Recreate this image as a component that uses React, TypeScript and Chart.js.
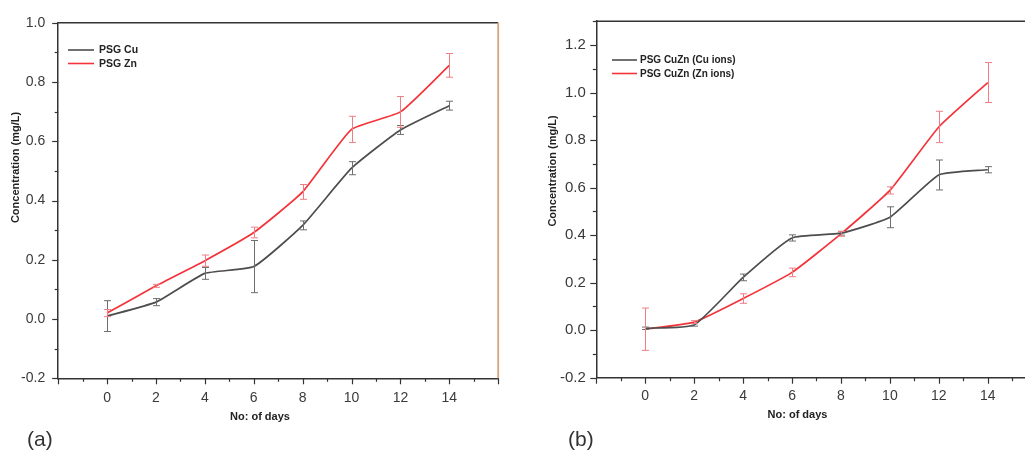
import React, { useEffect, useRef } from 'react';
import { Chart, registerables } from 'chart.js';

Chart.register(...registerables);

// ---------- data ----------
const days = [0, 2, 4, 6, 8, 10, 12, 14];

const cuA = [0.01, 0.057, 0.154, 0.177, 0.316, 0.509, 0.638, 0.72];
const cuAErr = [0.052, 0.012, 0.02, 0.088, 0.015, 0.022, 0.015, 0.015];
const znA = [0.02, 0.112, 0.197, 0.292, 0.429, 0.64, 0.699, 0.856];
const znAErr = [0.012, 0.005, 0.019, 0.018, 0.025, 0.044, 0.052, 0.04];

const cuB = [0.008, 0.022, 0.222, 0.388, 0.408, 0.475, 0.653, 0.675];
const cuBErr = [0.005, 0.005, 0.014, 0.013, 0.008, 0.044, 0.063, 0.013];
const znB = [0.004, 0.034, 0.133, 0.243, 0.405, 0.588, 0.855, 1.042];
const znBErr = [0.089, 0.006, 0.02, 0.018, 0.01, 0.015, 0.066, 0.084];

const xTickLabels = ['0', '2', '4', '6', '8', '10', '12', '14'];
const yTickLabelsA = ['-0.2', '0.0', '0.2', '0.4', '0.6', '0.8', '1.0'];
const yTickLabelsB = ['-0.2', '0.0', '0.2', '0.4', '0.6', '0.8', '1.0', '1.2'];

const seriesLabelsA = ['PSG Cu', 'PSG Zn'];
const seriesLabelsB = ['PSG CuZn (Cu ions)', 'PSG CuZn (Zn ions)'];

const GREY = '#4d4d4d';
const RED = '#f3343b';
const GREY_ERR = '#6e6e6e';
const RED_ERR = '#f07d84';
const AXIS = '#333333';
const TEXT = '#3a3a3a';

type PanelSpec = {
  width: number;
  yMin: number;
  yMax: number;
  yLabels: string[];
  series: { label: string; values: number[]; errors: number[]; color: string; errColor: string }[];
  pad: { top: number; right: number };
  yAxisWidth: number;
  xAxisHeight: number;
  yTickFont: number;
  yTickPad: number;
  xTickPad: number;
  yTitle: { x: number; y: number };
  xTitle: { x: number; y: number };
  legend: { x0: number; x1: number; y: number[]; textX: number; font: number };
  panelLabel: { text: string; x: number; y: number };
  rightBorder: string | null;
};

const decorPlugin = {
  id: 'panelDecor',
  afterDatasetsDraw(chart: any) {
    const spec: PanelSpec = chart.options.plugins.panelDecor.spec;
    const ctx = chart.ctx;
    const xs = chart.scales.x;
    const ys = chart.scales.y;
    ctx.save();
    spec.series.forEach((s) => {
      ctx.strokeStyle = s.errColor;
      ctx.lineWidth = 1;
      s.values.forEach((v, i) => {
        const px = Math.round(xs.getPixelForValue(days[i])) + 0.5;
        const yt = ys.getPixelForValue(v + s.errors[i]);
        const yb = ys.getPixelForValue(v - s.errors[i]);
        ctx.beginPath();
        ctx.moveTo(px, yt);
        ctx.lineTo(px, yb);
        ctx.moveTo(px - 3.5, yt);
        ctx.lineTo(px + 3.5, yt);
        ctx.moveTo(px - 3.5, yb);
        ctx.lineTo(px + 3.5, yb);
        ctx.stroke();
      });
    });
    ctx.restore();
  },
  afterDraw(chart: any) {
    const spec: PanelSpec = chart.options.plugins.panelDecor.spec;
    const ctx = chart.ctx;
    const area = chart.chartArea;
    const xs = chart.scales.x;
    const ys = chart.scales.y;
    ctx.save();
    // tick marks
    ctx.strokeStyle = AXIS;
    ctx.lineWidth = 1.2;
    ys.ticks.forEach((t: any) => {
      const major = Math.round(t.value * 10) % 2 === 0;
      const py = Math.round(ys.getPixelForValue(t.value)) + 0.5;
      const len = major ? 6 : 3.5;
      ctx.beginPath();
      ctx.moveTo(area.left, py);
      ctx.lineTo(area.left - len, py);
      ctx.stroke();
    });
    xs.ticks.forEach((t: any) => {
      const major = Math.round(t.value) % 2 === 0;
      const px = Math.round(xs.getPixelForValue(t.value)) + 0.5;
      const len = major ? 6 : 3.5;
      ctx.beginPath();
      ctx.moveTo(px, area.bottom);
      ctx.lineTo(px, area.bottom + len);
      ctx.stroke();
    });
    // top border
    ctx.lineWidth = 1.5;
    ctx.beginPath();
    ctx.moveTo(area.left, area.top);
    ctx.lineTo(spec.rightBorder ? area.right : chart.width, area.top);
    ctx.stroke();
    if (spec.rightBorder) {
      ctx.strokeStyle = spec.rightBorder;
      ctx.lineWidth = 1.8;
      ctx.beginPath();
      ctx.moveTo(area.right, area.top);
      ctx.lineTo(area.right, area.bottom);
      ctx.stroke();
    }
    // axis titles
    ctx.fillStyle = '#222';
    ctx.font = 'bold 11px "Liberation Sans", Arial, sans-serif';
    ctx.textAlign = 'center';
    ctx.textBaseline = 'middle';
    ctx.fillText('No: of days', spec.xTitle.x, spec.xTitle.y);
    ctx.save();
    ctx.translate(spec.yTitle.x, spec.yTitle.y);
    ctx.rotate(-Math.PI / 2);
    ctx.fillText('Concentration (mg/L)', 0, 0);
    ctx.restore();
    // legend
    const lg = spec.legend;
    ctx.font = `bold ${lg.font}px "Liberation Sans", Arial, sans-serif`;
    ctx.textAlign = 'left';
    ctx.textBaseline = 'middle';
    spec.series.forEach((s, i) => {
      ctx.strokeStyle = s.color;
      ctx.lineWidth = 1.6;
      ctx.beginPath();
      ctx.moveTo(lg.x0, lg.y[i]);
      ctx.lineTo(lg.x1, lg.y[i]);
      ctx.stroke();
      ctx.fillStyle = '#222';
      ctx.fillText(s.label, lg.textX, lg.y[i] + 0.5);
    });
    // panel label
    ctx.fillStyle = '#333';
    ctx.font = '21px "Liberation Sans", Arial, sans-serif';
    ctx.textBaseline = 'alphabetic';
    ctx.fillText(spec.panelLabel.text, spec.panelLabel.x, spec.panelLabel.y);
    ctx.restore();
  },
};

function buildConfig(spec: PanelSpec): any {
  return {
    type: 'line',
    data: {
      datasets: spec.series.map((s) => ({
        label: s.label,
        data: days.map((d, i) => ({ x: d, y: s.values[i] })),
        borderColor: s.color,
        backgroundColor: s.color,
        borderWidth: 1.7,
        pointRadius: 0,
        tension: 0.15,
        fill: false,
      })),
    },
    options: {
      responsive: false,
      animation: false,
      events: [],
      layout: { padding: { top: spec.pad.top, right: spec.pad.right, left: 0, bottom: 0 } },
      plugins: {
        legend: { display: false },
        tooltip: { enabled: false },
        panelDecor: { spec },
      },
      scales: {
        x: {
          type: 'linear',
          min: -2,
          max: 16,
          afterFit: (s: any) => {
            s.height = spec.xAxisHeight;
          },
          grid: { display: false, drawTicks: false },
          border: { display: true, color: AXIS, width: 1.5 },
          ticks: {
            stepSize: 1,
            autoSkip: false,
            maxRotation: 0,
            padding: spec.xTickPad,
            color: TEXT,
            font: { family: '"Liberation Sans", Arial, sans-serif', size: 14 },
            callback: (v: number) => {
              const s = String(Math.round(v));
              return xTickLabels.includes(s) && Math.abs(v - Math.round(v)) < 1e-6 ? s : '';
            },
          },
        },
        y: {
          type: 'linear',
          min: spec.yMin,
          max: spec.yMax,
          afterFit: (s: any) => {
            s.width = spec.yAxisWidth;
          },
          grid: { display: false, drawTicks: false },
          border: { display: true, color: AXIS, width: 1.5 },
          ticks: {
            stepSize: 0.1,
            autoSkip: false,
            padding: spec.yTickPad,
            color: TEXT,
            font: { family: '"Liberation Sans", Arial, sans-serif', size: spec.yTickFont },
            callback: (v: number) => {
              const s = (Math.round(v * 10) / 10).toFixed(1);
              return spec.yLabels.includes(s) ? s : '';
            },
          },
        },
      },
    },
    plugins: [decorPlugin],
  };
}

const specA: PanelSpec = {
  width: 520,
  yMin: -0.2,
  yMax: 1.0,
  yLabels: yTickLabelsA,
  series: [
    { label: seriesLabelsA[0], values: cuA, errors: cuAErr, color: GREY, errColor: GREY_ERR },
    { label: seriesLabelsA[1], values: znA, errors: znAErr, color: RED, errColor: RED_ERR },
  ],
  pad: { top: 22.7, right: 21.8 },
  yAxisWidth: 58.2,
  xAxisHeight: 74.7,
  yTickFont: 14,
  yTickPad: 13,
  xTickPad: 11,
  yTitle: { x: 16, y: 167.5 },
  xTitle: { x: 260, y: 416.5 },
  legend: { x0: 68, x1: 94, y: [50, 63.5], textX: 99, font: 10.5 },
  panelLabel: { text: '(a)', x: 27, y: 445.5 },
  rightBorder: '#d6a47c',
};

const specB: PanelSpec = {
  width: 540,
  yMin: -0.2,
  yMax: 1.3,
  yLabels: yTickLabelsB,
  series: [
    { label: seriesLabelsB[0], values: cuB, errors: cuBErr, color: GREY, errColor: GREY_ERR },
    { label: seriesLabelsB[1], values: znB, errors: znBErr, color: RED, errColor: RED_ERR },
  ],
  pad: { top: 21.2, right: 23.3 },
  yAxisWidth: 76.3,
  xAxisHeight: 75.3,
  yTickFont: 15,
  yTickPad: 10.5,
  xTickPad: 10,
  yTitle: { x: 33, y: 171 },
  xTitle: { x: 277.5, y: 414.5 },
  legend: { x0: 92, x1: 117, y: [60, 73.5], textX: 120, font: 10 },
  panelLabel: { text: '(b)', x: 48, y: 445.5 },
  rightBorder: null,
};

function Panel({ spec, left }: { spec: PanelSpec; left: number }) {
  const ref = useRef<HTMLCanvasElement | null>(null);
  useEffect(() => {
    if (!ref.current) return;
    const chart = new Chart(ref.current, buildConfig(spec));
    return () => chart.destroy();
  }, [spec]);
  return (
    <canvas
      ref={ref}
      width={spec.width}
      height={453}
      style={{ position: 'absolute', left, top: 0, width: spec.width, height: 453 }}
    />
  );
}

export default function App() {
  return (
    <div
      style={{
        position: 'absolute',
        left: 0,
        top: 0,
        width: 1025,
        height: 453,
        overflow: 'hidden',
        background: '#ffffff',
      }}
    >
      <Panel spec={specA} left={0} />
      <Panel spec={specB} left={520} />
    </div>
  );
}
